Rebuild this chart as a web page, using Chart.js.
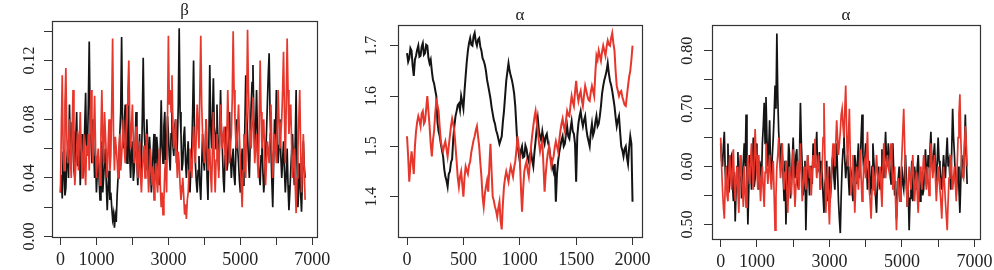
<!DOCTYPE html>
<html>
<head>
<meta charset="utf-8">
<script src="https://cdn.jsdelivr.net/npm/chart.js@4.4.1/dist/chart.umd.min.js"></script>
<style>
  body { margin: 0; background: #fff; }
  canvas { position: absolute; top: 0; }
</style>
</head>
<body>
<canvas id="c1" width="330" height="270" style="left:0px"></canvas>
<canvas id="c2" width="330" height="270" style="left:330px"></canvas>
<canvas id="c3" width="334" height="270" style="left:660px"></canvas>
<script>
// beta chains, one value every 25 iterations
var betaBlack = [0.030, 0.042, 0.026, 0.058, 0.045, 0.028, 0.033, 0.052, 0.060, 0.040, 0.090, 0.062, 0.050, 0.078, 0.072, 0.045, 0.040, 0.066, 0.085, 0.048, 0.055, 0.070,
  0.035, 0.052, 0.070, 0.040, 0.048, 0.075, 0.098, 0.058, 0.060, 0.090, 0.133, 0.080, 0.065, 0.050, 0.080, 0.060, 0.040, 0.055, 0.030,
  0.045, 0.055, 0.038, 0.025, 0.050, 0.065, 0.030, 0.040, 0.052, 0.060, 0.035, 0.018, 0.035, 0.045, 0.025, 0.030, 0.020, 0.012, 0.016, 0.006,
  0.014, 0.010, 0.028, 0.040, 0.055, 0.070, 0.085, 0.136, 0.075, 0.060, 0.078, 0.090, 0.062, 0.050, 0.070, 0.100, 0.055, 0.040, 0.058, 0.065,
  0.038, 0.045, 0.060, 0.085, 0.050, 0.035, 0.055, 0.070, 0.040, 0.050, 0.080, 0.122, 0.075, 0.060, 0.045, 0.080, 0.062, 0.040, 0.068, 0.055,
  0.030, 0.040, 0.058, 0.070, 0.042, 0.045, 0.068, 0.060, 0.040, 0.035, 0.060, 0.093, 0.062, 0.050, 0.075, 0.085, 0.052, 0.060, 0.082, 0.070,
  0.055, 0.045, 0.070, 0.090, 0.062, 0.055, 0.075, 0.080, 0.050, 0.065, 0.090, 0.142, 0.085, 0.070, 0.045, 0.050, 0.068, 0.075, 0.052, 0.040,
  0.055, 0.065, 0.042, 0.030, 0.048, 0.060, 0.085, 0.120, 0.070, 0.050, 0.038, 0.030, 0.045, 0.055, 0.035, 0.025, 0.048, 0.070, 0.052, 0.045,
  0.062, 0.080, 0.040, 0.025, 0.065, 0.117, 0.078, 0.060, 0.082, 0.108, 0.075, 0.070, 0.060, 0.090, 0.062, 0.045, 0.070, 0.100, 0.072, 0.060,
  0.040, 0.030, 0.055, 0.075, 0.045, 0.050, 0.068, 0.085, 0.055, 0.040, 0.052, 0.060, 0.042, 0.035, 0.058, 0.080, 0.060, 0.050, 0.038, 0.030,
  0.045, 0.060, 0.035, 0.045, 0.075, 0.110, 0.085, 0.070, 0.052, 0.040, 0.065, 0.090, 0.105, 0.117, 0.080, 0.060, 0.075, 0.100, 0.070, 0.050,
  0.042, 0.035, 0.055, 0.070, 0.045, 0.030, 0.040, 0.055, 0.070, 0.090, 0.110, 0.125, 0.085, 0.060, 0.038, 0.020, 0.050, 0.080, 0.065, 0.100,
  0.075, 0.050, 0.062, 0.080, 0.055, 0.040, 0.052, 0.065, 0.045, 0.030, 0.042, 0.060, 0.035, 0.018, 0.030, 0.045, 0.058, 0.070, 0.050, 0.035,
  0.065, 0.100, 0.050, 0.020, 0.035, 0.050, 0.030, 0.017, 0.040, 0.065, 0.048, 0.040];
var betaRed = [0.030, 0.075, 0.110, 0.060, 0.045, 0.090, 0.115, 0.070, 0.050, 0.062, 0.080, 0.055, 0.040, 0.072, 0.100, 0.055, 0.035, 0.048, 0.060, 0.072, 0.045, 0.065,
  0.085, 0.060, 0.040, 0.055, 0.070, 0.048, 0.035, 0.062, 0.055, 0.070, 0.045, 0.075, 0.100, 0.065, 0.050, 0.072, 0.096, 0.060, 0.040,
  0.052, 0.060, 0.048, 0.035, 0.070, 0.100, 0.068, 0.050, 0.085, 0.070, 0.055, 0.040, 0.062, 0.080, 0.045, 0.055, 0.090, 0.135, 0.070, 0.045,
  0.068, 0.060, 0.052, 0.040, 0.058, 0.070, 0.045, 0.055, 0.068, 0.080, 0.060, 0.050, 0.072, 0.090, 0.100, 0.120, 0.080, 0.060, 0.075, 0.090,
  0.065, 0.050, 0.062, 0.075, 0.050, 0.040, 0.055, 0.065, 0.042, 0.030, 0.045, 0.055, 0.062, 0.040, 0.058, 0.070, 0.048, 0.030, 0.042, 0.060,
  0.045, 0.035, 0.048, 0.025, 0.040, 0.050, 0.038, 0.030, 0.045, 0.060, 0.035, 0.020, 0.030, 0.015, 0.025, 0.045, 0.052, 0.030, 0.080, 0.137,
  0.090, 0.100, 0.085, 0.110, 0.075, 0.060, 0.070, 0.080, 0.055, 0.040, 0.058, 0.050, 0.035, 0.025, 0.032, 0.040, 0.028, 0.015, 0.022, 0.012,
  0.025, 0.030, 0.045, 0.060, 0.050, 0.040, 0.058, 0.075, 0.062, 0.050, 0.070, 0.090, 0.075, 0.060, 0.100, 0.137, 0.090, 0.070, 0.058, 0.050,
  0.065, 0.080, 0.060, 0.045, 0.052, 0.060, 0.042, 0.030, 0.060, 0.085, 0.050, 0.030, 0.052, 0.070, 0.055, 0.040, 0.065, 0.090, 0.072, 0.060,
  0.068, 0.075, 0.055, 0.045, 0.070, 0.100, 0.075, 0.050, 0.062, 0.070, 0.095, 0.140, 0.100, 0.080, 0.065, 0.060, 0.075, 0.090, 0.068, 0.050,
  0.035, 0.020, 0.045, 0.070, 0.055, 0.040, 0.090, 0.141, 0.100, 0.080, 0.068, 0.060, 0.078, 0.095, 0.070, 0.050, 0.062, 0.070, 0.052, 0.040,
  0.080, 0.120, 0.085, 0.060, 0.072, 0.080, 0.055, 0.035, 0.050, 0.065, 0.058, 0.050, 0.070, 0.090, 0.060, 0.040, 0.055, 0.070, 0.062, 0.050,
  0.075, 0.100, 0.078, 0.060, 0.070, 0.080, 0.100, 0.126, 0.085, 0.050, 0.090, 0.135, 0.100, 0.070, 0.082, 0.090, 0.062, 0.040, 0.052, 0.060,
  0.035, 0.016, 0.040, 0.060, 0.080, 0.100, 0.062, 0.030, 0.050, 0.070, 0.045, 0.025];

// alpha chains (middle panel), one value every 10 iterations
var alphaMidBlack = [1.685, 1.668, 1.675, 1.695, 1.690, 1.660, 1.640, 1.672, 1.680, 1.692, 1.700, 1.678, 1.680, 1.698, 1.705, 1.682, 1.685, 1.702, 1.700, 1.676,
  1.665, 1.672, 1.650, 1.632, 1.625, 1.612, 1.600, 1.548, 1.530, 1.520, 1.505, 1.492, 1.480, 1.455, 1.440, 1.432, 1.420, 1.445, 1.450, 1.468,
  1.475, 1.515, 1.540, 1.560, 1.570, 1.582, 1.585, 1.572, 1.600, 1.588, 1.575, 1.610, 1.640, 1.668, 1.690, 1.705, 1.715, 1.702, 1.700, 1.718,
  1.725, 1.708, 1.700, 1.712, 1.715, 1.698, 1.690, 1.675, 1.670, 1.662, 1.650, 1.632, 1.620, 1.608, 1.595, 1.578, 1.565, 1.552, 1.545, 1.532,
  1.525, 1.515, 1.505, 1.512, 1.520, 1.548, 1.570, 1.600, 1.630, 1.648, 1.665, 1.650, 1.640, 1.632, 1.620, 1.605, 1.580, 1.540, 1.500, 1.488,
  1.470, 1.492, 1.500, 1.478, 1.480, 1.502, 1.495, 1.478, 1.470, 1.485, 1.490, 1.472, 1.460, 1.488, 1.510, 1.535, 1.555, 1.530, 1.520, 1.512,
  1.530, 1.515, 1.505, 1.520, 1.525, 1.508, 1.500, 1.482, 1.470, 1.460, 1.450, 1.465, 1.390, 1.445, 1.470, 1.488, 1.500, 1.512, 1.520, 1.500,
  1.505, 1.525, 1.540, 1.520, 1.515, 1.535, 1.550, 1.530, 1.525, 1.505, 1.430, 1.520, 1.545, 1.560, 1.570, 1.552, 1.540, 1.552, 1.560, 1.535,
  1.520, 1.510, 1.500, 1.528, 1.545, 1.522, 1.530, 1.548, 1.560, 1.540, 1.545, 1.560, 1.580, 1.605, 1.620, 1.632, 1.640, 1.650, 1.665, 1.645,
  1.630, 1.622, 1.610, 1.595, 1.580, 1.558, 1.540, 1.552, 1.560, 1.528, 1.500, 1.492, 1.480, 1.495, 1.500, 1.478, 1.465, 1.498, 1.520, 1.505,
  1.390];
var alphaMidRed = [1.520, 1.480, 1.430, 1.462, 1.490, 1.470, 1.445, 1.500, 1.530, 1.548, 1.560, 1.552, 1.540, 1.565, 1.570, 1.545, 1.550, 1.575, 1.600, 1.570,
  1.540, 1.505, 1.480, 1.512, 1.530, 1.565, 1.590, 1.582, 1.570, 1.538, 1.510, 1.498, 1.490, 1.502, 1.510, 1.495, 1.480, 1.500, 1.520, 1.540,
  1.555, 1.545, 1.530, 1.500, 1.470, 1.438, 1.420, 1.440, 1.450, 1.425, 1.400, 1.438, 1.460, 1.452, 1.445, 1.462, 1.470, 1.488, 1.500, 1.512,
  1.520, 1.532, 1.540, 1.520, 1.500, 1.468, 1.440, 1.400, 1.380, 1.405, 1.420, 1.432, 1.410, 1.460, 1.505, 1.450, 1.400, 1.392, 1.380, 1.372,
  1.360, 1.378, 1.390, 1.352, 1.335, 1.385, 1.420, 1.438, 1.450, 1.440, 1.430, 1.448, 1.460, 1.450, 1.440, 1.458, 1.470, 1.492, 1.520, 1.500,
  1.480, 1.420, 1.370, 1.415, 1.450, 1.462, 1.470, 1.452, 1.440, 1.470, 1.500, 1.522, 1.540, 1.558, 1.570, 1.548, 1.530, 1.508, 1.490, 1.502,
  1.510, 1.462, 1.410, 1.445, 1.470, 1.488, 1.500, 1.478, 1.460, 1.472, 1.480, 1.498, 1.510, 1.500, 1.490, 1.512, 1.530, 1.545, 1.555, 1.540,
  1.530, 1.552, 1.570, 1.562, 1.560, 1.582, 1.600, 1.588, 1.580, 1.608, 1.630, 1.605, 1.590, 1.602, 1.610, 1.592, 1.580, 1.602, 1.620, 1.610,
  1.600, 1.592, 1.590, 1.608, 1.620, 1.610, 1.600, 1.645, 1.680, 1.672, 1.690, 1.680, 1.670, 1.688, 1.700, 1.690, 1.680, 1.698, 1.710, 1.702,
  1.700, 1.715, 1.725, 1.705, 1.690, 1.650, 1.620, 1.610, 1.600, 1.608, 1.610, 1.598, 1.590, 1.582, 1.580, 1.600, 1.620, 1.638, 1.650, 1.672,
  1.700];

// alpha chains (right panel), one value every 25 iterations
var alphaBlack = [0.640, 0.610, 0.600, 0.635, 0.660, 0.590, 0.560, 0.600, 0.640, 0.555, 0.580, 0.615, 0.620, 0.570, 0.540, 0.590, 0.505, 0.560, 0.600, 0.625,
  0.560, 0.590, 0.620, 0.545, 0.580, 0.610, 0.640, 0.600, 0.690, 0.580, 0.500, 0.560, 0.620, 0.600, 0.560, 0.610, 0.650, 0.565, 0.580, 0.640,
  0.620, 0.580, 0.560, 0.610, 0.600, 0.570, 0.640, 0.670, 0.710, 0.640, 0.720, 0.650, 0.600, 0.630, 0.680, 0.600, 0.580, 0.620, 0.650, 0.690,
  0.740, 0.700, 0.830, 0.720, 0.660, 0.630, 0.600, 0.640, 0.620, 0.580, 0.540, 0.610, 0.500, 0.560, 0.580, 0.640, 0.620, 0.545, 0.570, 0.610,
  0.650, 0.600, 0.580, 0.620, 0.630, 0.570, 0.560, 0.620, 0.710, 0.640, 0.600, 0.550, 0.570, 0.610, 0.490, 0.560, 0.620, 0.590, 0.550, 0.600,
  0.600, 0.570, 0.640, 0.600, 0.610, 0.630, 0.660, 0.590, 0.600, 0.625, 0.560, 0.610, 0.590, 0.550, 0.520, 0.570, 0.580, 0.610, 0.540, 0.570,
  0.600, 0.545, 0.570, 0.610, 0.620, 0.580, 0.560, 0.600, 0.640, 0.590, 0.540, 0.510, 0.485, 0.550, 0.600, 0.630, 0.660, 0.610, 0.580, 0.605,
  0.620, 0.580, 0.550, 0.600, 0.590, 0.560, 0.540, 0.580, 0.620, 0.600, 0.570, 0.610, 0.640, 0.580, 0.600, 0.650, 0.690, 0.620, 0.590, 0.615,
  0.640, 0.600, 0.560, 0.590, 0.610, 0.570, 0.550, 0.600, 0.640, 0.610, 0.580, 0.545, 0.520, 0.570, 0.600, 0.580, 0.560, 0.595, 0.630, 0.600,
  0.580, 0.620, 0.660, 0.610, 0.600, 0.640, 0.620, 0.590, 0.570, 0.610, 0.640, 0.590, 0.550, 0.575, 0.510, 0.545, 0.580, 0.600, 0.540, 0.575,
  0.600, 0.570, 0.560, 0.590, 0.620, 0.575, 0.530, 0.560, 0.490, 0.545, 0.580, 0.610, 0.540, 0.575, 0.600, 0.580, 0.560, 0.600, 0.620, 0.580,
  0.540, 0.575, 0.590, 0.550, 0.560, 0.600, 0.630, 0.590, 0.580, 0.620, 0.600, 0.630, 0.660, 0.610, 0.590, 0.620, 0.640, 0.600, 0.570, 0.610,
  0.650, 0.610, 0.600, 0.570, 0.560, 0.595, 0.620, 0.590, 0.580, 0.620, 0.650, 0.600, 0.610, 0.580, 0.560, 0.630, 0.700, 0.650, 0.620, 0.580,
  0.550, 0.580, 0.600, 0.560, 0.520, 0.575, 0.620, 0.600, 0.580, 0.630, 0.690, 0.620, 0.570];
var alphaRed = [0.650, 0.600, 0.560, 0.530, 0.510, 0.570, 0.600, 0.550, 0.540, 0.590, 0.620, 0.580, 0.560, 0.600, 0.630, 0.570, 0.540, 0.580, 0.600, 0.555,
  0.520, 0.580, 0.620, 0.585, 0.560, 0.530, 0.600, 0.560, 0.530, 0.580, 0.620, 0.590, 0.570, 0.610, 0.640, 0.590, 0.560, 0.610, 0.665, 0.620,
  0.590, 0.560, 0.620, 0.580, 0.540, 0.575, 0.600, 0.560, 0.530, 0.590, 0.640, 0.600, 0.570, 0.595, 0.620, 0.580, 0.560, 0.590, 0.610, 0.550,
  0.490, 0.550, 0.600, 0.620, 0.650, 0.610, 0.580, 0.600, 0.640, 0.590, 0.560, 0.590, 0.610, 0.560, 0.520, 0.570, 0.600, 0.575, 0.550, 0.590,
  0.630, 0.570, 0.530, 0.565, 0.590, 0.610, 0.560, 0.600, 0.640, 0.580, 0.540, 0.570, 0.600, 0.575, 0.560, 0.590, 0.620, 0.600, 0.580, 0.600,
  0.550, 0.590, 0.620, 0.600, 0.648, 0.610, 0.580, 0.600, 0.620, 0.590, 0.560, 0.580, 0.600, 0.650, 0.710, 0.620, 0.520, 0.560, 0.600, 0.545,
  0.500, 0.550, 0.580, 0.610, 0.640, 0.620, 0.600, 0.640, 0.680, 0.650, 0.620, 0.640, 0.660, 0.690, 0.700, 0.670, 0.650, 0.700, 0.740, 0.660,
  0.600, 0.650, 0.700, 0.620, 0.550, 0.580, 0.620, 0.570, 0.520, 0.565, 0.600, 0.580, 0.560, 0.600, 0.630, 0.580, 0.540, 0.570, 0.600, 0.610,
  0.580, 0.620, 0.660, 0.600, 0.560, 0.540, 0.510, 0.560, 0.600, 0.580, 0.550, 0.590, 0.620, 0.590, 0.570, 0.580, 0.600, 0.560, 0.530, 0.590,
  0.640, 0.610, 0.580, 0.600, 0.620, 0.600, 0.590, 0.620, 0.640, 0.600, 0.560, 0.580, 0.600, 0.540, 0.490, 0.540, 0.580, 0.560, 0.540, 0.580,
  0.620, 0.660, 0.700, 0.640, 0.580, 0.560, 0.530, 0.570, 0.600, 0.580, 0.560, 0.590, 0.620, 0.580, 0.540, 0.570, 0.590, 0.550, 0.520, 0.565,
  0.600, 0.580, 0.560, 0.590, 0.620, 0.600, 0.580, 0.560, 0.600, 0.575, 0.550, 0.600, 0.640, 0.610, 0.580, 0.600, 0.620, 0.580, 0.540, 0.570,
  0.600, 0.580, 0.560, 0.540, 0.510, 0.560, 0.600, 0.570, 0.540, 0.515, 0.490, 0.540, 0.580, 0.600, 0.620, 0.590, 0.560, 0.580, 0.600, 0.570,
  0.540, 0.600, 0.650, 0.690, 0.725, 0.650, 0.600, 0.585, 0.580, 0.630, 0.670, 0.640, 0.600];

// axis ticks and labels (R drops the labels that would overlap)
var longXTicks = [0, 1000, 2000, 3000, 4000, 5000, 6000, 7000];
var longXLabels = ["0", "1000", "", "3000", "", "5000", "", "7000"];
var midXTicks = [0, 500, 1000, 1500, 2000];
var midXLabels = ["0", "500", "1000", "1500", "2000"];
var betaYTicks = [0, 0.02, 0.04, 0.06, 0.08, 0.10, 0.12, 0.14];
var betaYLabels = ["0.00", "", "0.04", "", "0.08", "", "0.12", ""];
var midYTicks = [1.4, 1.5, 1.6, 1.7];
var midYLabels = ["1.4", "1.5", "1.6", "1.7"];
var alphaYTicks = [0.50, 0.55, 0.60, 0.65, 0.70, 0.75, 0.80];
var alphaYLabels = ["0.50", "", "0.60", "", "0.70", "", "0.80"];

var RED = "#e6372d";
var BLACK = "#141414";
var AXIS = "#333";
var FONT = "'Liberation Serif', 'DejaVu Serif', serif";

function toPoints(values, step) {
  return values.map(function (v, i) { return { x: i * step, y: v }; });
}

// R style box around the plot region
const boxPlugin = {
  id: "box",
  afterDraw(chart) {
    const ctx = chart.ctx;
    const a = chart.chartArea;
    ctx.save();
    ctx.strokeStyle = AXIS;
    ctx.lineWidth = 1.2;
    ctx.strokeRect(a.left + 0.5, a.top + 0.5, a.width, a.height);
    ctx.restore();
  }
};

function plotTrace(id, p) {
  var config = {
    type: "line",
    data: {
      datasets: [
        { data: toPoints(p.red, p.step), borderColor: RED, borderWidth: p.lw, pointRadius: 0, tension: 0 },
        { data: toPoints(p.black, p.step), borderColor: BLACK, borderWidth: p.lw, pointRadius: 0, tension: 0 }
      ]
    },
    options: {
      responsive: false,
      animation: false,
      events: [],
      layout: { autoPadding: false, padding: { left: 0, right: p.padRight, top: 0, bottom: 0 } },
      plugins: {
        legend: { display: false },
        tooltip: { enabled: false },
        title: {
          display: true,
          text: p.title,
          fullSize: false,
          color: "#222",
          font: { family: FONT, size: 17, lineHeight: 1, weight: "normal" },
          padding: { top: p.titleTop, bottom: p.titleBottom }
        }
      },
      scales: {
        x: {
          type: "linear",
          min: p.xMin,
          max: p.xMax,
          afterBuildTicks: function (s) { s.ticks = p.xTicks.map(function (v) { return { value: v }; }); },
          afterFit: function (s) { s.height = p.xHeight; s.paddingLeft = 0; s.paddingRight = 0; },
          border: { display: false },
          grid: { drawOnChartArea: false, tickLength: 8, tickColor: AXIS, tickWidth: 1 },
          ticks: {
            autoSkip: false, maxRotation: 0, minRotation: 0, padding: 4, color: "#222",
            font: { family: FONT, size: 18 },
            callback: function (v, i) { return p.xLabels[i]; }
          }
        },
        y: {
          type: "linear",
          min: p.yMin,
          max: p.yMax,
          afterBuildTicks: function (s) { s.ticks = p.yTicks.map(function (v) { return { value: v }; }); },
          afterFit: function (s) { s.width = p.yWidth; s.paddingTop = 0; s.paddingBottom = 0; },
          border: { display: false },
          grid: { drawOnChartArea: false, tickLength: 8, tickColor: AXIS, tickWidth: 1 },
          ticks: {
            autoSkip: false, minRotation: 90, maxRotation: 90, crossAlign: "center",
            padding: p.yPad, color: "#222",
            font: { family: FONT, size: 16 },
            callback: function (v, i) { return p.yLabels[i]; }
          }
        }
      }
    },
    plugins: [boxPlugin]
  };
  return new Chart(document.getElementById(id), config);
}

plotTrace("c1", {
  title: "\u03b2", red: betaRed, black: betaBlack, step: 25, lw: 1.7,
  xMin: -235, xMax: 7130, xTicks: longXTicks, xLabels: longXLabels,
  yMin: -0.0003, yMax: 0.147, yTicks: betaYTicks, yLabels: betaYLabels,
  yWidth: 52, yPad: 0, padRight: 13, xHeight: 33, titleTop: 2, titleBottom: 2
});
plotTrace("c2", {
  title: "\u03b1", red: alphaMidRed, black: alphaMidBlack, step: 10, lw: 2,
  xMin: -80, xMax: 2084, xTicks: midXTicks, xLabels: midXLabels,
  yMin: 1.32, yMax: 1.741, yTicks: midYTicks, yLabels: midYLabels,
  yWidth: 68, yPad: 8, padRight: 18, xHeight: 33, titleTop: 7, titleBottom: 1
});
plotTrace("c3", {
  title: "\u03b1", red: alphaRed, black: alphaBlack, step: 25, lw: 1.7,
  xMin: -240, xMax: 7155, xTicks: longXTicks, xLabels: longXLabels,
  yMin: 0.4748, yMax: 0.8446, yTicks: alphaYTicks, yLabels: alphaYLabels,
  yWidth: 52, yPad: 2, padRight: 14, xHeight: 31, titleTop: 7, titleBottom: 1
});
</script>
</body>
</html>
